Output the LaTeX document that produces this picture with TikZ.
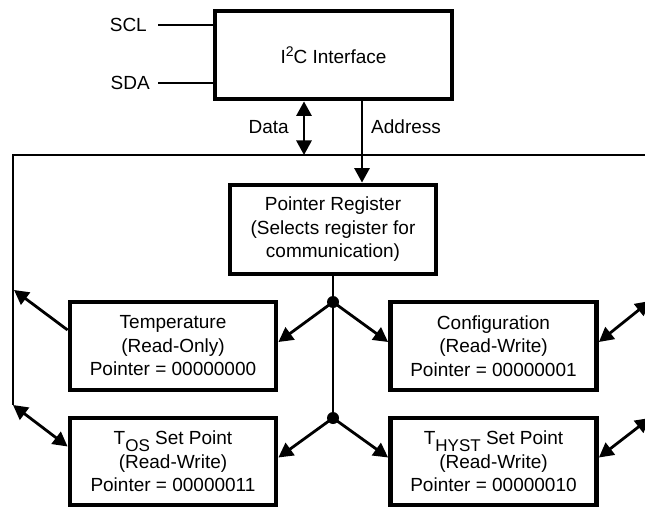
\documentclass[tikz,border=0pt]{standalone}
\usepackage{fontspec}
\setmainfont{Liberation Sans}
\usetikzlibrary{arrows.meta}
\newcommand{\mysub}[1]{\raisebox{-6.5pt}{\fontsize{17}{17}\selectfont #1}}
\newcommand{\mysup}[1]{\raisebox{7pt}{\fontsize{14}{14}\selectfont #1}}
\begin{document}
\begin{tikzpicture}[x=1pt,y=-1pt,
  txt/.style={font=\fontsize{19}{23.5}\selectfont, inner sep=0pt},
  box/.style={txt, draw, line width=4.8pt, align=center},
  conn/.style={line width=2.8pt},
  tip/.style={-{Triangle[length=14.5pt,width=15pt]}},
  tips/.style={{Triangle[length=14.5pt,width=15pt]}-{Triangle[length=14.5pt,width=15pt]}},
  dot/.style={circle, fill, inner sep=0pt, minimum size=12pt}
]
\useasboundingbox (0,0) rectangle (645,508);
\clip (0,0) rectangle (645,508);

% boxes
\node[box, minimum width=237pt, minimum height=88pt] (i2c) at (333.5,55) {I\mysup{2}C Interface};
\node[box, minimum width=206pt, minimum height=89pt] (ptr) at (333,229.5)
  {Pointer Register\\(Selects register for\\communication)};
\node[box, minimum width=206pt, minimum height=88pt] (temp) at (173,346)
  {Temperature\\(Read-Only)\\Pointer = 00000000};
\node[box, minimum width=206pt, minimum height=88pt] (cfg) at (493.5,346)
  {Configuration\\(Read-Write)\\Pointer = 00000001};
\node[box, minimum width=206pt, minimum height=87pt] (tos) at (173,461.5)
  {T\smash{\mysub{OS}} Set Point\\(Read-Write)\\Pointer = 00000011};
\node[box, minimum width=206pt, minimum height=87pt] (thyst) at (493.5,461.5)
  {T\smash{\mysub{HYST}} Set Point\\(Read-Write)\\Pointer = 00000010};

% labels
\node[txt, anchor=east] (scl) at (147,25) {SCL};
\node[txt, anchor=east] (sda) at (150,83) {SDA};
\node[txt, anchor=east] (datal) at (289,127) {Data};
\node[txt, anchor=west] (addrl) at (371,127) {Address};

% coordinates
\coordinate (busL) at (13,155);
\coordinate (busR) at (660,155);
\coordinate (busB) at (13,405);
\coordinate (dataB) at (304,155);
\coordinate (addrX) at (362,155);
\coordinate (tl) at (14,290);
\coordinate (rc1) at (650,301);
\coordinate (rc2) at (650,418);
\node[dot] (d1) at (333,302) {};
\node[dot] (d2) at (333,418) {};

% SCL / SDA
\draw[conn] ([xshift=11pt]scl.east) -- (i2c.west |- scl.east);
\draw[conn] ([xshift=8pt]sda.east) -- (i2c.west |- sda.east);

% bus
\draw[conn, line width=2.5pt] (busR) -- (busL) -- (busB);

% data and address
\draw[conn, tips] (i2c.south -| dataB) -- (dataB);
\draw[conn, tip] (i2c.south -| addrX) -- (ptr.north -| addrX);

% pointer distribution
\draw[conn] (ptr.south) -- (d2.center);
\draw[conn, tip] (d1.center) -- ([yshift=4pt]temp.east);
\draw[conn, tip] (d1.center) -- ([yshift=4pt]cfg.west);
\draw[conn, tip] (d2.center) -- ([yshift=4pt]tos.east);
\draw[conn, tip] (d2.center) -- ([yshift=4pt]thyst.west);

% register to bus
\draw[conn, tip] ([yshift=16pt]temp.west) -- (tl);
\draw[conn, tips] (busB) -- ([yshift=15pt]tos.west);
\draw[conn, tips] ([yshift=4pt]cfg.east) -- (rc1);
\draw[conn, tips] ([yshift=4pt]thyst.east) -- (rc2);
\end{tikzpicture}
\end{document}
